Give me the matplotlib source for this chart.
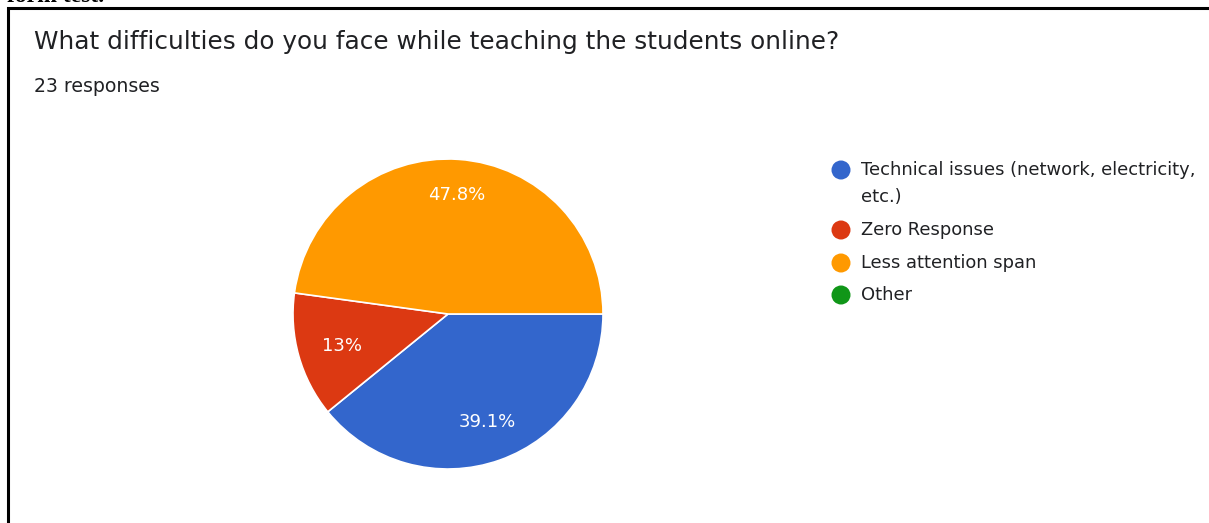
import matplotlib
matplotlib.use('Agg')
import matplotlib.pyplot as plt
from matplotlib.patches import Rectangle, Ellipse

plt.rcParams['font.family'] = ['DejaVu Sans']

# survey data (23 responses)
labels = ['Technical issues (network, electricity,\netc.)', 'Zero Response',
          'Less attention span', 'Other']
counts = [9, 3, 11, 0]
colors = ['#3366CC', '#DC3912', '#FF9900', '#109618']
title = 'What difficulties do you face while teaching the students online?'
subtitle = '23 responses'

W, H = 1209, 523
fig = plt.figure(figsize=(W / 100, H / 100), dpi=100)
fig.patch.set_facecolor('white')

def fx(px): return px / W
def fy(py): return 1 - py / H

# frame of the screenshot (right and bottom edges are off the picture)
fig.add_artist(Rectangle((fx(8), fy(560)), fx(1300), 552 / H, transform=fig.transFigure,
                         fill=False, edgecolor='black', linewidth=2.2, clip_on=False))
# caption of the page above, mostly cut off in the screenshot
fig.text(fx(7), fy(1.5), 'form test.', fontsize=17, family='Liberation Serif', weight='bold',
         va='baseline', ha='left', color='black')

fig.text(fx(34), fy(42), title, fontsize=17.8, color='#202124', va='center', ha='left')
fig.text(fx(34), fy(87), subtitle, fontsize=13.6, color='#202124', va='center', ha='left')

# pie
r = 155
cx, cy = 448, 314
ax = fig.add_axes([fx(cx - r), fy(cy + r), 2 * r / W, 2 * r / H])
vals = [c for c in counts if c > 0]
cols = [col for c, col in zip(counts, colors) if c > 0]
total = sum(counts)
wedges, _ = ax.pie(vals, colors=cols, startangle=0, counterclock=False,
                   wedgeprops=dict(edgecolor='white', linewidth=1.2), radius=1)
pcts = ['%.1f%%' % (v * 100 / total) for v in vals]
pcts = [p.replace('.0%', '%') for p in pcts]
label_pos = [(487, 422), (342, 346), (457, 195)]
for (px, py), p in zip(label_pos, pcts):
    fig.text(fx(px), fy(py), p, color='white', fontsize=13, ha='center', va='center')
ax.set_xlim(-1, 1)
ax.set_ylim(-1, 1)
ax.set_aspect('auto')

# legend
rows = [170, 230, 263, 295]
for lab, col, ry in zip(labels, colors, rows):
    fig.add_artist(Ellipse((fx(841), fy(ry)), 19 / W, 19 / H, transform=fig.transFigure,
                           facecolor=col, edgecolor='none'))
    lines = lab.split('\n')
    fig.text(fx(861), fy(ry), lines[0], fontsize=12.9, color='#202124', va='center', ha='left')
    if len(lines) > 1:
        fig.text(fx(861), fy(ry + 27), lines[1], fontsize=12.9, color='#202124',
                 va='center', ha='left')

fig.savefig('out.png', dpi=100)
